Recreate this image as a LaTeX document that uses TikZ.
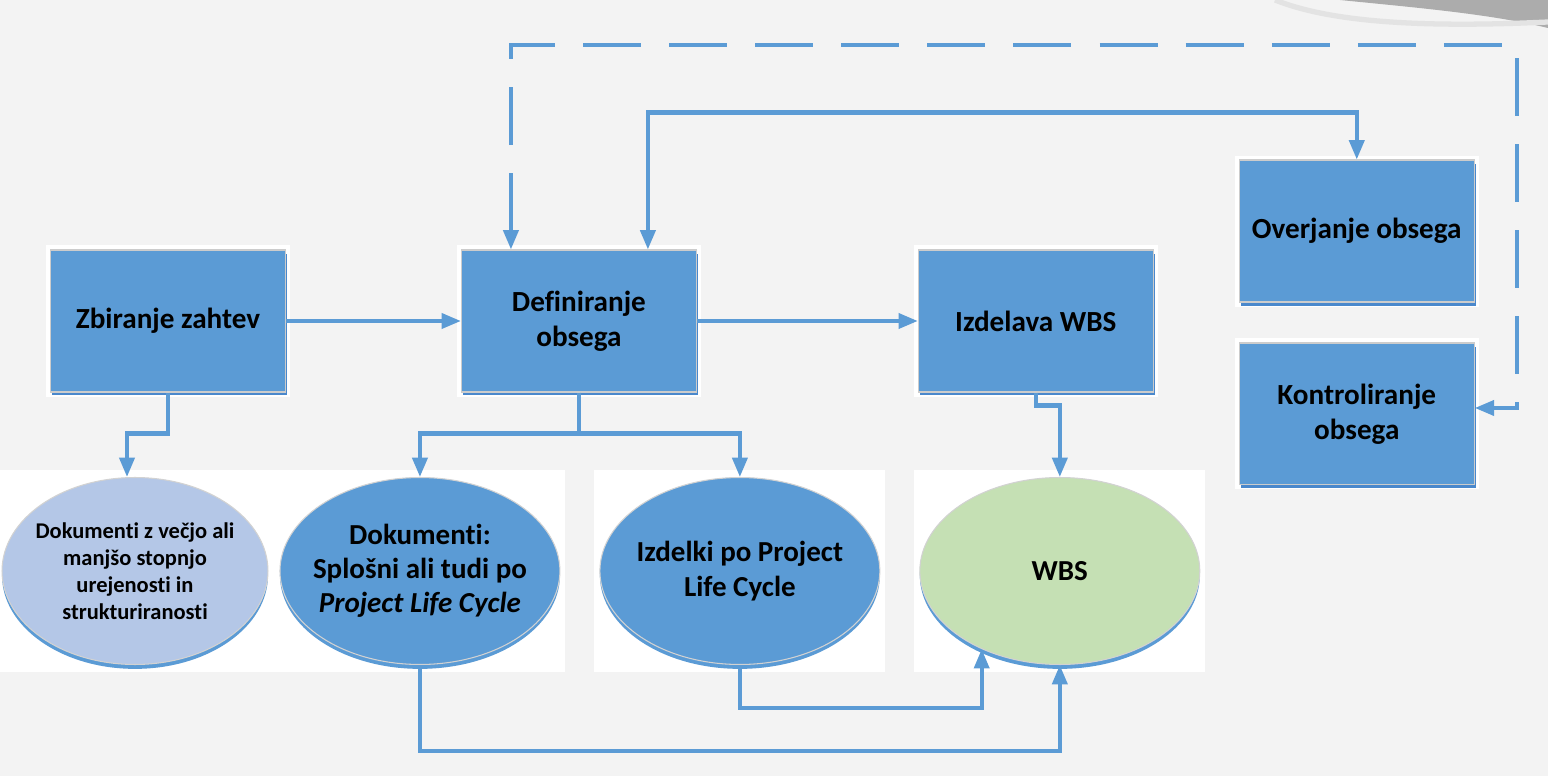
\documentclass[tikz,border=0pt]{standalone}
\usepackage{fontspec}
\setmainfont{Carlito}[Ligatures={NoCommon,NoContextual}]
\usepackage{tikz}
\usetikzlibrary{positioning}
\usetikzlibrary{arrows.meta}
\usetikzlibrary{shapes,backgrounds}
\usetikzlibrary{fit,shadows}

\definecolor{boxblue}{HTML}{5B9BD5}
\definecolor{shadeblue}{HTML}{4A88CC}
\definecolor{lavblue}{HTML}{B4C7E7}
\definecolor{palegreen}{HTML}{C5E0B4}
\definecolor{slidebg}{HTML}{F3F3F3}

\begin{document}
\begin{tikzpicture}[x=0.02cm,y=-0.02cm,on grid,>={Triangle[length=11pt,width=8.5pt]},
		task/.style={rectangle,fill=boxblue,draw=gray!40,line width=0.6pt,minimum width=4.7cm,minimum height=2.84cm,
			align=center,font=\fontsize{16.6}{20}\selectfont\bfseries,
			drop shadow={shadow xshift=1pt,shadow yshift=-2pt,fill=shadeblue,opacity=1}},
		outcome/.style={ellipse,draw=gray!35,line width=0.6pt,minimum width=5.6cm,minimum height=3.74cm,inner sep=0pt,
			drop shadow={shadow xshift=0pt,shadow yshift=-2.5pt,fill=boxblue,opacity=1}},
		outtext/.style={align=center,inner sep=0pt,font=\fontsize{16.5}{19.5}\selectfont\bfseries},
		backing/.style={rectangle,fill=white,draw=none,inner sep=0.08cm},
		link/.style={draw=boxblue,line width=2.3pt}]
		\useasboundingbox (0,0) rectangle (1548,776);
		
		% process boxes
		\node[task]  (zbir)                                      at (168,321) {Zbiranje zahtev};
		\node[task]  (defin) [right=8.22cm of zbir]              {Definiranje\\obsega};
		\node[task]  (izdel) [right=9.14cm of defin]             {Izdelava WBS};
		\node[task]  (over)  [above right=1.8cm and 6.42cm of izdel] {Overjanje obsega};
		\node[task]  (kontr) [below=3.66cm of over]              {Kontroliranje\\obsega};
		
		% documents / outputs
		\node[outcome,fill=lavblue,minimum width=5.32cm] (doczb) at (135,571) {};
		\node[outcome,fill=boxblue]   (docpl) [right=5.7cm of doczb] {};
		\node[outcome,fill=boxblue]   (izpl)  [right=6.4cm of docpl] {};
		\node[outcome,fill=palegreen] (wbs)   [right=6.4cm of izpl]  {};
		\node[outtext,font=\fontsize{12.8}{15.3}\selectfont\bfseries] (doczb-txt) at (doczb)
		     {Dokumenti z večjo ali\\manjšo stopnjo\\urejenosti in\\strukturiranosti};
		\node[outtext] (docpl-txt) at (docpl) {Dokumenti:\\Splošni ali tudi po\\\textit{Project Life Cycle}};
		\node[outtext] (izpl-txt)  at (izpl)  {Izdelki po Project\\Life Cycle};
		\node[outtext] (wbs-txt)   at (wbs)   {WBS};
		
		\begin{scope}[on background layer]
			\fill[slidebg] (0,0) rectangle (1548,776);
			\fill[gray!65] (1340,0) .. controls (1420,8) and (1490,14) .. (1548,28) -- (1548,0) -- cycle;
			\draw[gray!22,line width=3pt] (1275,0) .. controls (1330,22) and (1420,28) .. (1548,22);
			\foreach \n in {zbir,defin,izdel,over,kontr}
			\node[backing,fit=(\n)] (\n-bg) {};
			\foreach \n in {doczb,docpl,izpl,wbs}
			\node[backing,fit=(\n),inner xsep=0.1cm,inner ysep=0.13cm] (\n-bg) {};
		\end{scope}
		
		\coordinate (dcorner) at (1517,45);
		
		\draw[link,->] (zbir) -- (defin);
		\draw[link,->] (defin) -- (izdel);
		\draw[link,->] (zbir.south) -- ++(0,41) -| ([xshift=-0.16cm]doczb.north);
		\draw[link,->] (defin.south) -- ++(0,41) -| (docpl.north);
		\draw[link,->] (defin.south) -- ++(0,41) -| (izpl.north);
		\draw[link,->] (izdel.south) -- ++(0,13) -| (wbs.north);
		\draw[link,<->] ([xshift=1.38cm]defin.north) -- ++(0,-137) -| (over.north);
		\draw[link,<->,dash pattern=on 33pt off 16pt] ([xshift=-1.36cm]defin.north) |- (dcorner) |- ([yshift=0.12cm]kontr.east);
		\draw[link,->] (docpl.south) -- ++(0,86) -| (wbs.south);
		\draw[link,->] (izpl.south) -- ++(0,43) -| (wbs.225);
\end{tikzpicture}
\end{document}
